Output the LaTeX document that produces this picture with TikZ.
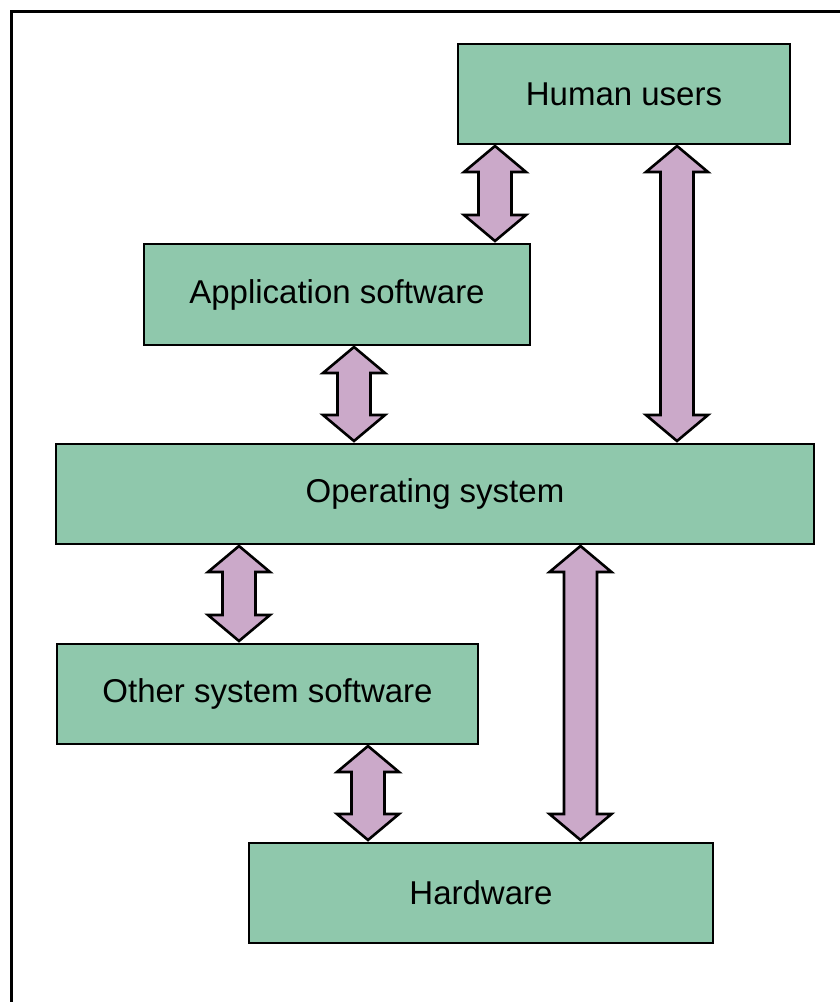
\documentclass[tikz,border=0pt]{standalone}
\usepackage{fontspec}
\setmainfont{Liberation Sans}
\usetikzlibrary{calc}
\definecolor{boxgreen}{HTML}{8FC8AC}
\definecolor{arrowpurple}{HTML}{CBA9C9}
\tikzset{
  layer/.style={draw=black, line width=2.8pt, fill=boxgreen, inner sep=0pt, outer sep=0pt,
    font=\fontsize{33}{38}\selectfont, text=black},
  barrow/.style={draw=black, line width=2.6pt, fill=arrowpurple, line join=miter,
    to path={let \p1=(\tikztostart), \p2=(\tikztotarget) in
      (\x1,\y1) -- (\x1+31pt,\y1-26pt) -- (\x1+16.5pt,\y1-26pt) -- (\x1+16.5pt,\y2+26pt)
      -- (\x1+31pt,\y2+26pt) -- (\x1,\y2) -- (\x1-31pt,\y2+26pt) -- (\x1-16.5pt,\y2+26pt)
      -- (\x1-16.5pt,\y1-26pt) -- (\x1-31pt,\y1-26pt) -- cycle}}
}
\begin{document}
\begin{tikzpicture}[x=1pt,y=-1pt]
\path[use as bounding box] (0,0) rectangle (840,1002);
\begin{scope}
  \clip (0,0) rectangle (840,1002);
  \draw[line width=3pt] (11,11) rectangle (880,1040);
\end{scope}
% boxes
\node[layer, minimum width=332pt, minimum height=100pt] (hu) at (624,94) {Human users};
\node[layer, minimum width=386pt, minimum height=101pt] (app) at (337,294.5) {Application software};
\node[layer, minimum width=758pt, minimum height=100pt] (os) at (435,494) {Operating system};
\node[layer, minimum width=421pt, minimum height=100pt] (oss) at (267.5,694) {Other system software};
\node[layer, minimum width=464pt, minimum height=100pt] (hw) at (481,893) {Hardware};
% arrow columns
\coordinate (c1) at (495,0);
\coordinate (c2) at (677,0);
\coordinate (c3) at (354,0);
\coordinate (c4) at (239,0);
\coordinate (c5) at (580.5,0);
\coordinate (c6) at (368,0);
% arrows
\draw[barrow] ([yshift=-2pt]hu.south -| c1) to ([yshift=3pt]app.north -| c1);
\draw[barrow] ([yshift=-2pt]hu.south -| c2) to ([yshift=3pt]os.north -| c2);
\draw[barrow] ([yshift=-2pt]app.south -| c3) to ([yshift=3pt]os.north -| c3);
\draw[barrow] ([yshift=-2pt]os.south -| c4) to ([yshift=3pt]oss.north -| c4);
\draw[barrow] ([yshift=-2pt]os.south -| c5) to ([yshift=3pt]hw.north -| c5);
\draw[barrow] ([yshift=-2pt]oss.south -| c6) to ([yshift=3pt]hw.north -| c6);
\end{tikzpicture}
\end{document}
